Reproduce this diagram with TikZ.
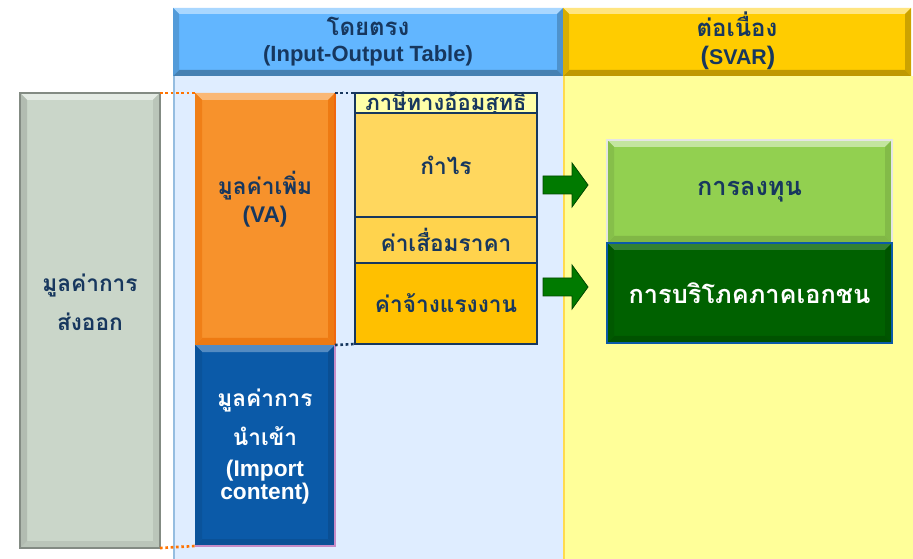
\documentclass[tikz,border=0pt]{standalone}
\usepackage{fontspec}
\setmainfont{Liberation Sans}
\newfontfamily\thai[Script=Thai]{Loma}
\usetikzlibrary{calc}
\definecolor{navy}{HTML}{17375E}
\definecolor{hdrblue}{HTML}{62B6FF}
\definecolor{hdryel}{HTML}{FFCC00}
\definecolor{bgblue}{HTML}{DFEDFF}
\definecolor{bgyel}{HTML}{FFFF99}
\definecolor{sage}{HTML}{CAD6C9}
\definecolor{orng}{HTML}{F7922C}
\definecolor{orngdk}{HTML}{EE7A12}
\definecolor{impblue}{HTML}{0B5AA8}
\definecolor{rowA}{HTML}{FFFFA8}
\definecolor{rowB}{HTML}{FFD75E}
\definecolor{rowC}{HTML}{FFD34D}
\definecolor{rowD}{HTML}{FFC000}
\definecolor{ltgreen}{HTML}{92D050}
\definecolor{dkgreen}{HTML}{006100}
\definecolor{arrgreen}{HTML}{007A00}
\newcommand\bev[6]{%
\fill[#3] (#1.north west) -- (#1.north east) -- ($(#1.north east)+(-#2,#2)$) -- ($(#1.north west)+(#2,#2)$) -- cycle;
\fill[#4] (#1.north east) -- (#1.south east) -- ($(#1.south east)+(-#2,-#2)$) -- ($(#1.north east)+(-#2,#2)$) -- cycle;
\fill[#5] (#1.south east) -- (#1.south west) -- ($(#1.south west)+(#2,-#2)$) -- ($(#1.south east)+(-#2,-#2)$) -- cycle;
\fill[#6] (#1.south west) -- (#1.north west) -- ($(#1.north west)+(#2,#2)$) -- ($(#1.south west)+(#2,-#2)$) -- cycle;}
\tikzset{
 blk/.style={rectangle, inner sep=0pt, outer sep=0pt, align=center, font=\bfseries, text=navy},
 th/.style={font=\thai\bfseries\fontsize{17}{29}\selectfont},
 en/.style={font=\bfseries\fontsize{17}{17}\selectfont},
 row/.style={blk, draw=navy, line width=1.2pt, minimum width=136.5pt},
 dotl/.style={dotted, line width=2pt},
 garrow/.style={fill=arrgreen, draw=arrgreen!60!black, line width=0.6pt}
}
\begin{document}
\begin{tikzpicture}[x=0.75pt,y=-0.75pt]
\useasboundingbox (0,0) rectangle (913,559);
\fill[white] (0,0) rectangle (913,559);
% column backgrounds
\fill[bgblue] (174,76) rectangle (563,559);
\draw[hdrblue!80!black!60, line width=0.8pt] (174,76) -- (174,559);
\fill[bgyel] (563,76) rectangle (913,559);
\draw[hdryel!70, line width=1pt] (564,76) -- (564,559);
% headers
\node[blk, fill=hdrblue, minimum width=292.5pt, minimum height=51pt] (hdrA) at (368,42) {};
\bev{hdrA}{6}{hdrblue!55!white}{hdrblue!80!black}{hdrblue!70!black}{hdrblue!85!black}
\node[blk, font=\thai\bfseries\fontsize{18}{22}\selectfont] (hdrAth) at (368,26) {โดยตรง};
\node[blk, font=\bfseries\fontsize{16.5}{18}\selectfont] (hdrAen) at (368,56) {(Input-Output Table)};
\node[blk, fill=hdryel, minimum width=261pt, minimum height=51pt] (hdrB) at (737,42) {};
\bev{hdrB}{6}{hdryel!50!white}{hdryel!80!black}{hdryel!75!black}{hdryel!85!black}
\node[blk, font=\thai\bfseries\fontsize{18}{22}\selectfont] (hdrBth) at (737,24) {ต่อเนื่อง};
\node[blk, font=\bfseries\fontsize{16}{18}\selectfont] (hdrBen) at (738,58) {{\fontsize{19}{19}\selectfont(}SVAR{\fontsize{19}{19}\selectfont)}};
% exports
\node[blk, fill=sage, minimum width=105pt, minimum height=341.25pt] (exp) at (90,320.5) {};
\bev{exp}{7}{sage!50!white}{sage!92!black}{sage!92!black}{sage!88!black}
\draw[sage!65!black, line width=0.8pt] (exp.north west) rectangle (exp.south east);
\node[blk, th] (expt) at (90,302) {มูลค่าการ\\ส่งออก};
% value added
\node[blk, fill=orng, minimum width=105pt, minimum height=189pt] (va) at (265,219) {};
\bev{va}{7}{orng!65!white}{orngdk}{orngdk}{orngdk!80!orng}
\draw[orngdk!85!red, line width=1pt] (va.north east) -- (va.south east);
\node[blk, th] (vat1) at (265,186) {มูลค่าเพิ่ม};
\node[blk, en] (vat2) at (265,217) {(VA)};
% imports
\node[blk, fill=impblue, minimum width=105pt, minimum height=150.75pt] (imp) at (265,445.5) {};
\bev{imp}{7}{impblue!70!white}{impblue!88!black}{impblue!90!black}{impblue!92!black}
\draw[violet!45!white, line width=1.2pt] (imp.north east) -- (imp.south east) -- (imp.south west);
\node[blk, th, text=white] (impt1) at (265,417) {มูลค่าการ\\นำเข้า};
\node[blk, en, text=white] (impt2) at (265,482) {(Import\\content)};
% stack rows
\node[row, fill=rowA, minimum height=15pt] (r1) at (446,103) {};
\node[blk, font=\thai\bfseries\fontsize{16.5}{18}\selectfont] (r1t) at (446,104) {ภาษีทางอ้อมสุทธิ};
\node[row, fill=rowB, minimum height=78pt, th] (r2) at (446,165) {กำไร};
\node[row, fill=rowC, minimum height=34.5pt, th] (r3) at (446,240) {ค่าเสื่อมราคา};
\node[row, fill=rowD, minimum height=60.75pt, th] (r4) at (446,303.5) {ค่าจ้างแรงงาน};
% dotted guides
\draw[dotl, orange!90!red] (exp.north east) -- (va.north west);
\draw[dotl, orange!90!red] (exp.south east) -- (imp.south west);
\draw[dotl, navy] (va.north east) -- (r1.north west);
\draw[dotl, navy] (va.south east) -- (r4.south west);
% SVAR boxes
\node[blk, fill=ltgreen, minimum width=213.75pt, minimum height=77.25pt] (inv) at (749.5,191.5) {};
\node[blk, fill=dkgreen, minimum width=213.75pt, minimum height=75pt] (cons) at (749.5,293) {};
\bev{inv}{7}{ltgreen!55!white}{ltgreen!90!black}{ltgreen!88!black}{ltgreen!92!black}
\bev{cons}{7}{dkgreen!80!white}{dkgreen!88!black}{dkgreen!85!black}{dkgreen!92!black}
\draw[gray!20, line width=1.2pt] (inv.north west) rectangle (inv.south east);
\draw[impblue, line width=1pt] (cons.north west) rectangle (cons.south east);
\node[blk, text=navy, font=\thai\bfseries\fontsize{19}{22}\selectfont] (invt) at (inv.center) {การลงทุน};
\node[blk, text=white, font=\thai\bfseries\fontsize{19}{22}\selectfont] (const) at (cons.center) {การบริโภคภาคเอกชน};
% arrows
\coordinate (a1) at (543,185);
\coordinate (a2) at (543,287);
\draw[garrow] (a1) ++(0,-9) -- ++(29,0) -- ++(0,-13) -- ++(16,22) -- ++(-16,22) -- ++(0,-13) -- ++(-29,0) -- cycle;
\draw[garrow] (a2) ++(0,-9) -- ++(29,0) -- ++(0,-13) -- ++(16,22) -- ++(-16,22) -- ++(0,-13) -- ++(-29,0) -- cycle;
\end{tikzpicture}
\end{document}
